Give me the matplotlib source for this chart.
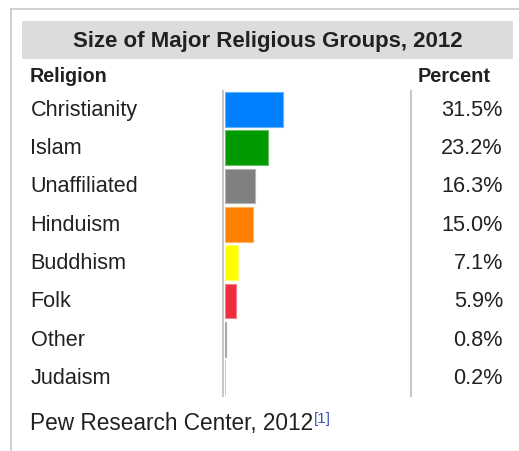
import matplotlib
matplotlib.use("Agg")
import matplotlib.pyplot as plt
from matplotlib.colors import to_rgb
from matplotlib.patches import Rectangle
from matplotlib.transforms import blended_transform_factory

plt.rcParams['font.family'] = ['Liberation Sans', 'DejaVu Sans']

# Data
religions = ['Christianity', 'Islam', 'Unaffiliated', 'Hinduism',
             'Buddhism', 'Folk', 'Other', 'Judaism']
percent = [31.5, 23.2, 16.3, 15.0, 7.1, 5.9, 0.8, 0.2]
colors = ['#0080ff', '#009900', '#808080', '#ff8000',
          '#ffff00', '#ee2c3c', '#aaaaaa', '#aaaaaa']
title = "Size of Major Religious Groups, 2012"
source = "Pew Research Center, 2012"

W, H = 519, 451
txt = '#202122'
line_c = '#c8c8c8'

fig = plt.figure(figsize=(W / 100, H / 100), dpi=100)

# page-level axes in pixel coordinates for the frame, title band, lines
ax = fig.add_axes([0, 0, 1, 1])
ax.set_xlim(0, W)
ax.set_ylim(H, 0)
ax.axis('off')

# outer box (left and top borders)
ax.plot([11, 11], [9, H], color=line_c, lw=1.2)
ax.plot([11, W], [9, 9], color=line_c, lw=1.2)

# title band
ax.add_patch(Rectangle((22, 21), 491, 38, facecolor='#dcdcdc', edgecolor='none'))
ax.text(268, 47, title, ha='center', va='baseline', fontsize=16,
        fontweight='bold', color=txt)

# headers
ax.text(30, 81.5, 'Religion', ha='left', va='baseline', fontsize=14.2,
        fontweight='bold', color=txt)
ax.text(418, 81.5, 'Percent', ha='left', va='baseline', fontsize=14.4,
        fontweight='bold', color=txt)

# bar axes
row0, pitch = 109.3, 38.35
top_px = row0 - pitch / 2
bot_px = row0 + pitch * (len(religions) - 0.5)
left_px, px_per_pct = 225, 1.84
bax = fig.add_axes([left_px / W, 1 - bot_px / H,
                    100 * px_per_pct / W, (bot_px - top_px) / H])
bax.set_xlim(0, 100)
bax.set_ylim(len(religions) - 0.5, -0.5)
bax.axis('off')

# slightly lighter outline around each bar
edges = [tuple(0.6 * c + 0.4 for c in to_rgb(col)) for col in colors]
edges[6] = colors[6]
ypos = list(range(len(religions)))
bax.barh(ypos, percent, height=0.91, color=colors,
         edgecolor=edges, linewidth=0.8)

# separators
ax.plot([223, 223], [top_px + 1, bot_px - 1], color=line_c, lw=1.5)
ax.plot([411, 411], [top_px + 1, bot_px - 1], color=line_c, lw=1.5)

# row labels and values
tr = blended_transform_factory(ax.transData, bax.transData)
for i, (name, p) in enumerate(zip(religions, percent)):
    ax.text(30.5, i + 0.167, name, transform=tr, ha='left', va='baseline',
            fontsize=15.6, color=txt)
    ax.text(503, i + 0.167, f"{p:.1f}%", transform=tr, ha='right',
            va='baseline', fontsize=15.6, color=txt)

# source line with superscript reference
src = ax.text(30, 430, source, ha='left', va='baseline', fontsize=16.3, color=txt)
fig.canvas.draw()
bb = src.get_window_extent(renderer=fig.canvas.get_renderer())
ax.annotate('[1]', xy=(bb.x1, bb.y0), xycoords='figure pixels',
            xytext=(1, 12), textcoords='offset pixels', ha='left', va='baseline',
            fontsize=11, color='#3a55b0')

fig.savefig('out.png', dpi=100)
